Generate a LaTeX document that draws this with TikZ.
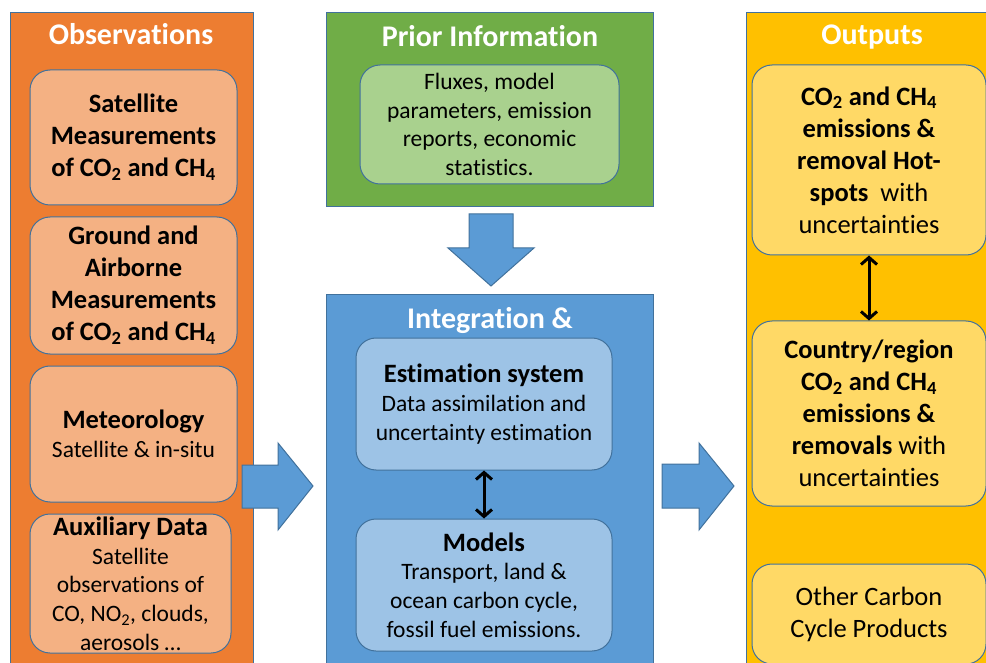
\documentclass[tikz,border=0pt]{standalone}
\usepackage{fontspec}
\setmainfont{Carlito}[Ligatures=NoCommon]
\usepackage{tikz}
\usetikzlibrary{positioning,arrows.meta}

\definecolor{edgeblue}{HTML}{41719C}
\definecolor{obsorange}{HTML}{ED7D31}
\definecolor{obslight}{HTML}{F4B183}
\definecolor{priorgreen}{HTML}{70AD47}
\definecolor{priorlight}{HTML}{A9D18E}
\definecolor{integblue}{HTML}{5B9BD5}
\definecolor{integlight}{HTML}{9DC3E6}
\definecolor{outgold}{HTML}{FFC000}
\definecolor{outlight}{HTML}{FFD966}

\newcommand{\bodysize}{\fontsize{23.5}{28.7}\selectfont}
\newcommand{\bigsize}{\fontsize{26.5}{32}\selectfont}
\newcommand{\titlesize}{\fontsize{30}{36}\selectfont}
\newcommand{\COtwo}{CO\textsubscript{2}}
\newcommand{\CHfour}{CH\textsubscript{4}}

\begin{document}
\begin{tikzpicture}[x=1pt,y=-1pt,
    panel/.style={draw=edgeblue, line width=1pt, anchor=north west, inner sep=0pt},
    paneltitle/.style={text=white, font=\titlesize\bfseries, anchor=base},
    innerbox/.style={draw=edgeblue, line width=1pt, rounded corners=20pt,
      align=center, inner sep=2pt, font=\bodysize},
    bigtext/.style={font=\bigsize\bfseries},
    blockarrow/.style={draw=edgeblue, line width=1pt, fill=integblue},
    linkarrow/.style={{Straight Barb[length=7pt,width=16pt]}-{Straight Barb[length=7pt,width=16pt]},
      line width=3pt}]
  \useasboundingbox (0,0) rectangle (986,663);
  \clip (0,0) rectangle (986,663);

  % the four panels
  \node[panel, fill=obsorange, minimum width=243pt, minimum height=670pt] (obs) at (10,12) {};
  \node[panel, fill=priorgreen, minimum width=327pt, minimum height=194pt] (prior) at (326,12) {};
  \node[panel, fill=integblue, minimum width=327pt, minimum height=380pt] (integ) at (326,294) {};
  \node[panel, fill=outgold, minimum width=260pt, minimum height=670pt] (outs) at (746,12) {};

  \node[paneltitle] (obstitle) at (131,45) {Observations};
  \node[paneltitle] (priortitle) at (490,47) {Prior Information};
  \node[paneltitle] (integtitle) at (490,328) {Integration \&};
  \node[paneltitle] (outtitle) at (872,45) {Outputs};

  % observations
  \node[innerbox, fill=obslight, minimum width=207pt, minimum height=135pt, bigtext]
    (satmeas) at (133.5,137.5) {Satellite\\Measurements\\of \COtwo{} and \CHfour};
  \node[innerbox, fill=obslight, minimum width=207pt, minimum height=137pt, bigtext,
    below=11pt of satmeas] (groundmeas) {Ground and\\Airborne\\Measurements\\of \COtwo{} and \CHfour};
  \node[innerbox, fill=obslight, minimum width=207pt, minimum height=136pt,
    below=11pt of groundmeas] (meteo) {{\bigsize\bfseries Meteorology}\\Satellite \& in-situ};
  \node[innerbox, fill=obslight, minimum width=201pt, minimum height=139pt, inner ysep=0pt,
    below=11pt of meteo, xshift=-3pt] (auxdata)
    {{\bigsize\bfseries Auxiliary Data}\\Satellite\\observations of\\CO, NO\textsubscript{2}, clouds,\\aerosols …};

  % prior information
  \node[innerbox, fill=priorlight, minimum width=259pt, minimum height=119pt]
    (priordata) at (489.5,124.5) {Fluxes, model\\parameters, emission\\reports, economic\\statistics.};

  % integration
  \node[innerbox, fill=integlight, minimum width=256pt, minimum height=132pt]
    (estim) at (484,404) {{\bigsize\bfseries Estimation system}\\Data assimilation and\\uncertainty estimation};
  \node[innerbox, fill=integlight, minimum width=256pt, minimum height=132pt,
    below=48pt of estim] (models) {{\bigsize\bfseries Models}\\Transport, land \&\\ocean carbon cycle,\\fossil fuel emissions.};

  % outputs
  \node[innerbox, fill=outlight, minimum width=234pt, minimum height=190pt, font=\bigsize]
    (hotspots) at (869,160) {\textbf{\COtwo{} and \CHfour}\\\textbf{emissions \&}\\\textbf{removal Hot-}\\\textbf{spots}\ \ with\\uncertainties};
  \node[innerbox, fill=outlight, minimum width=234pt, minimum height=185pt, font=\bigsize,
    below=65pt of hotspots] (country) {\textbf{Country/region}\\\textbf{\COtwo{} and \CHfour}\\\textbf{emissions \&}\\\textbf{removals} with\\uncertainties};
  \node[innerbox, fill=outlight, minimum width=234pt, minimum height=100pt, font=\bigsize,
    below=57pt of country] (otherprod) {Other Carbon\\Cycle Products};

  % block arrows
  \draw[blockarrow] (469,214) -- (513,214) -- (513,248) -- (534,248) -- (491,286)
    -- (448,248) -- (469,248) -- cycle;
  \draw[blockarrow] (242,465) -- (278,465) -- (278,443) -- (313,486) -- (278,530)
    -- (278,508) -- (242,508) -- cycle;
  \draw[blockarrow] (662,464) -- (699,464) -- (699,443) -- (734,486) -- (699,530)
    -- (699,508) -- (662,508) -- cycle;

  % two-way links
  \draw[linkarrow] (estim.south) -- (models.north);
  \draw[linkarrow] (hotspots.south) -- (country.north);
\end{tikzpicture}
\end{document}
